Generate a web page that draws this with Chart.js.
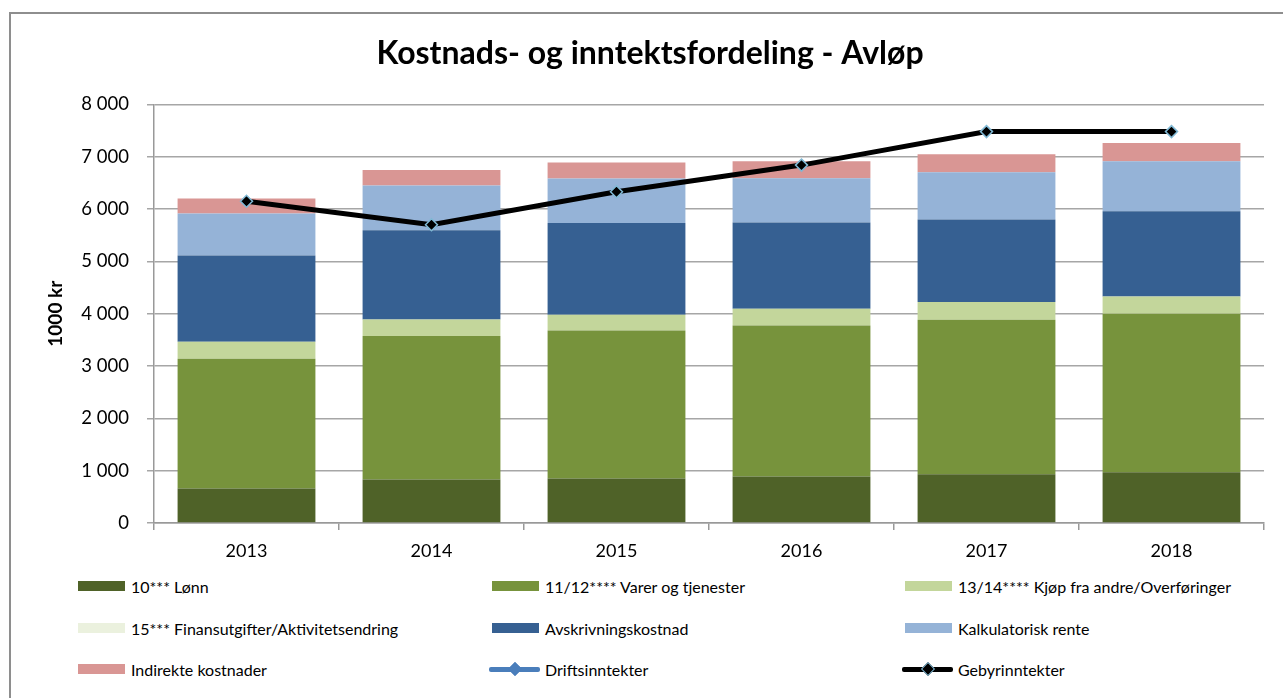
<!DOCTYPE html>
<html>
<head>
<meta charset="utf-8">
<script src="https://cdn.jsdelivr.net/npm/chart.js@4/dist/chart.umd.min.js"></script>
<style>
    body { margin: 0; background: #fff; width: 1283px; height: 698px; overflow: hidden; position: relative; font-family: Lato, sans-serif; }
    #frame { position: absolute; left: 9px; top: 12px; width: 1400px; height: 800px; border: 2px solid #8e8e8e; box-sizing: border-box; }
    #wrap { position: absolute; left: 0; top: 0; width: 1283px; height: 575px; }
    .item { position: absolute; display: flex; align-items: center; font-size: 16px; color: #000; height: 20px; white-space: nowrap; }
    .swatch { width: 47px; height: 20px; position: relative; margin-right: 6px; }
</style>
</head>
<body>
<div id="frame"></div>
<div id="wrap"><canvas id="chart"></canvas></div>
<div id="legend"></div>
<script>
const years = ['2013', '2014', '2015', '2016', '2017', '2018'];

const lonn = [660, 830, 850, 890, 930, 970];
const varer = [2480, 2745, 2830, 2885, 2955, 3030];
const kjop = [325, 312, 300, 320, 340, 330];
const finans = [0, 0, 0, 0, 0, 0];
const avskrivning = [1645, 1710, 1755, 1650, 1575, 1630];
const kalkulatorisk = [805, 855, 850, 845, 905, 955];
const indirekte = [285, 295, 305, 325, 340, 345];
const driftsinntekter = [null, null, null, null, null, null];
const gebyrinntekter = [6150, 5700, 6330, 6840, 7480, 7480];

const yMax = 8000;
const yStep = 1000;

function bar(label, data, colour) {
    return {
        type: 'bar',
        label: label,
        data: data,
        backgroundColor: colour,
        borderWidth: 0,
        stack: 'kost',
        order: 2,
        barPercentage: 0.745,
        categoryPercentage: 1
    };
}

function line(label, data, colour, pointBorder) {
    return {
        type: 'line',
        label: label,
        data: data,
        borderColor: colour,
        backgroundColor: colour,
        borderWidth: 5,
        pointStyle: 'rectRot',
        pointRadius: 6,
        pointBackgroundColor: colour,
        pointBorderColor: pointBorder,
        pointBorderWidth: 1.5,
        stack: label,
        order: 1,
        tension: 0
    };
}

const datasets = [
    bar('10*** Lønn', lonn, '#4f6228'),
    bar('11/12**** Varer og tjenester', varer, '#77933c'),
    bar('13/14**** Kjøp fra andre/Overføringer', kjop, '#c3d69b'),
    bar('15*** Finansutgifter/Aktivitetsendring', finans, '#ebf1de'),
    bar('Avskrivningskostnad', avskrivning, '#366092'),
    bar('Kalkulatorisk rente', kalkulatorisk, '#95b3d7'),
    bar('Indirekte kostnader', indirekte, '#d99694'),
    line('Driftsinntekter', driftsinntekter, '#4a7ebb', '#4a7ebb'),
    line('Gebyrinntekter', gebyrinntekter, '#000000', '#7fb8d4')
];

function spaced(v) {
    return String(v).replace(/\B(?=(\d{3})+(?!\d))/g, ' ');
}

const chart = new Chart(document.getElementById('chart'), {
    data: { labels: years, datasets: datasets },
    options: {
        responsive: true,
        maintainAspectRatio: false,
        animation: false,
        layout: { padding: { left: 36, right: 19, top: 0, bottom: 0 } },
        plugins: {
            legend: { display: false },
            tooltip: { enabled: false },
            title: {
                display: true,
                text: 'Kostnads- og inntektsfordeling - Avløp',
                color: '#000',
                font: { family: 'Lato', size: 32, weight: 'bold' },
                padding: { top: 34, bottom: 32 }
            }
        },
        scales: {
            x: {
                stacked: true,
                grid: { drawOnChartArea: false, drawTicks: true, tickLength: 7, color: '#999', lineWidth: 1.5 },
                border: { display: true, color: '#999', width: 1.5 },
                ticks: { color: '#000', font: { family: 'Lato', size: 18 }, padding: 10 },
                afterFit: function (scale) { scale.height = 52; }
            },
            y: {
                stacked: true,
                min: 0,
                max: yMax,
                grid: { color: '#a6a6a6', lineWidth: 1.5, tickLength: 7 },
                border: { display: true, color: '#999', width: 1.5 },
                ticks: {
                    stepSize: yStep,
                    color: '#000',
                    padding: 18,
                    font: { family: 'Lato', size: 18.5 },
                    callback: v => spaced(v)
                },
                title: {
                    display: true,
                    text: '1000 kr',
                    color: '#000',
                    font: { family: 'Lato', size: 19, weight: 'bold' },
                    padding: { top: 8, bottom: 0 }
                },
                afterFit: function (scale) { scale.width = 118; }
            }
        }
    }
});

// legend in three columns, like the original
const legendCols = [78, 492, 905];
const legendRows = [586, 628, 669];
const legend = document.getElementById('legend');
chart.data.datasets.forEach((ds, i) => {
    const item = document.createElement('div');
    item.className = 'item';
    item.style.left = legendCols[i % 3] + 'px';
    item.style.top = (legendRows[Math.floor(i / 3)] - 10) + 'px';

    const sw = document.createElement('div');
    sw.className = 'swatch';
    if (ds.type === 'bar') {
        sw.innerHTML = '<div style="position:absolute;left:0;top:5px;width:47px;height:10px;background:' + ds.backgroundColor + '"></div>';
    } else {
        sw.innerHTML = '<div style="position:absolute;left:-3px;top:8px;width:51px;height:5px;border-radius:2px;background:' + ds.borderColor + '"></div>' +
            '<div style="position:absolute;left:18px;top:5px;width:8px;height:8px;transform:rotate(45deg);background:' + ds.pointBackgroundColor +
            ';border:1.5px solid ' + ds.pointBorderColor + '"></div>';
    }
    item.appendChild(sw);
    item.appendChild(document.createTextNode(ds.label));
    legend.appendChild(item);
});
</script>
</body>
</html>
